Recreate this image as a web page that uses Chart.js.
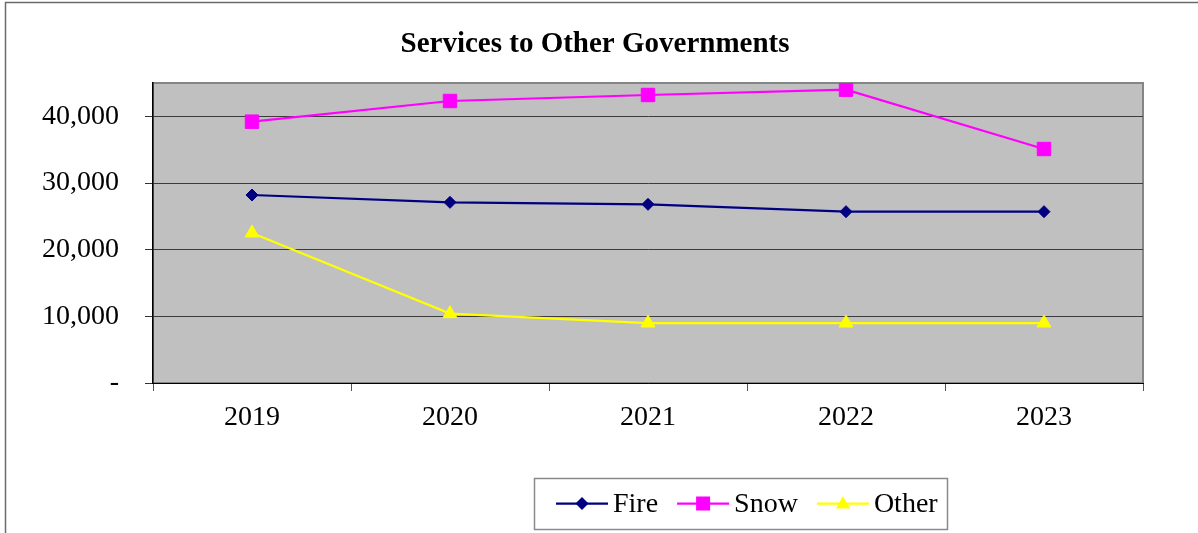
<!DOCTYPE html>
<html>
<head>
<meta charset="utf-8">
<title>Services to Other Governments</title>
<script src="https://cdn.jsdelivr.net/npm/chart.js@4.4.1/dist/chart.umd.min.js"></script>
<style>
  html, body { margin: 0; padding: 0; background: #fff; }
  #wrap { width: 1198px; height: 533px; }
</style>
</head>
<body>
<div id="wrap"><canvas id="chart" width="1198" height="533"></canvas></div>
<script>
// data
const years = ['2019', '2020', '2021', '2022', '2023'];
const seriesNames = ['Fire', 'Snow', 'Other'];
const fireValues = [28200, 27100, 26800, 25700, 25700];
const snowValues = [39200, 42300, 43200, 44000, 35100];
const otherValues = [22500, 10400, 9000, 9000, 9000];
const yTickValues = [0, 10000, 20000, 30000, 40000];

const FONT = '"Liberation Serif", "Times New Roman", serif';

// gray plot area + outer frame, drawn under the scales
const backdrop = {
    id: 'backdrop',
    beforeDraw(chart) {
        const { ctx, chartArea: a } = chart;
        ctx.save();
        ctx.fillStyle = '#fff';
        ctx.fillRect(0, 0, chart.width, chart.height);
        // outer frame (top and left edge visible)
        ctx.strokeStyle = '#6b6b6b';
        ctx.lineWidth = 1.5;
        ctx.beginPath();
        ctx.moveTo(5.5, chart.height);
        ctx.lineTo(5.5, 2.5);
        ctx.lineTo(chart.width, 2.5);
        ctx.stroke();
        // plot area
        ctx.fillStyle = '#c0c0c0';
        ctx.fillRect(a.left, a.top, a.right - a.left, a.bottom - a.top);
        ctx.strokeStyle = '#858585';
        ctx.lineWidth = 2;
        ctx.strokeRect(a.left, a.top, a.right - a.left, a.bottom - a.top);
        ctx.restore();
    }
};

function drawMarker(ctx, style, x, y, color) {
    ctx.fillStyle = color;
    ctx.beginPath();
    if (style === 'rectRot') {
        ctx.moveTo(x, y - 6.5); ctx.lineTo(x + 6.5, y); ctx.lineTo(x, y + 6.5); ctx.lineTo(x - 6.5, y);
    } else if (style === 'rect') {
        ctx.rect(x - 7, y - 7, 14, 14);
    } else {
        ctx.moveTo(x, y - 7.5); ctx.lineTo(x + 7, y + 5); ctx.lineTo(x - 7, y + 5);
    }
    ctx.closePath();
    ctx.fill();
}

// boxed legend below the plot, line + marker per series
const boxedLegend = {
    id: 'boxedLegend',
    afterDraw(chart) {
        const ctx = chart.ctx;
        const box = { x: 534, y: 478, w: 413, h: 51 };
        const cy = box.y + box.h / 2;
        ctx.save();
        ctx.strokeStyle = '#8a8a8a';
        ctx.lineWidth = 1.5;
        ctx.strokeRect(box.x + 0.5, box.y + 0.5, box.w, box.h);
        ctx.font = '28px ' + FONT;
        ctx.textBaseline = 'middle';
        ctx.textAlign = 'left';
        let x = box.x + 22;
        chart.data.datasets.forEach(ds => {
            ctx.strokeStyle = ds.borderColor;
            ctx.lineWidth = 2.25;
            ctx.beginPath();
            ctx.moveTo(x, cy);
            ctx.lineTo(x + 52, cy);
            ctx.stroke();
            drawMarker(ctx, ds.pointStyle, x + 26, cy, ds.pointBackgroundColor);
            ctx.fillStyle = '#000';
            ctx.fillText(ds.label, x + 57, cy + 1);
            x += 57 + ctx.measureText(ds.label).width + 19;
        });
        ctx.restore();
    }
};

const lineDataset = (label, data, color, style, radius) => ({
    label: label,
    data: data,
    borderColor: color,
    backgroundColor: color,
    pointBackgroundColor: color,
    pointBorderColor: color,
    borderWidth: 2.25,
    pointStyle: style,
    pointRadius: radius,
    pointBorderWidth: 1,
    tension: 0
});

new Chart(document.getElementById('chart'), {
    type: 'line',
    data: {
        labels: years,
        datasets: [
            lineDataset(seriesNames[0], fireValues, '#000080', 'rectRot', 6),
            lineDataset(seriesNames[1], snowValues, '#ff00ff', 'rect', 9.5),
            lineDataset(seriesNames[2], otherValues, '#ffff00', 'triangle', 8)
        ]
    },
    options: {
        responsive: false,
        devicePixelRatio: 1,
        animation: false,
        layout: { padding: { left: 0, right: 8, top: 27, bottom: 0 } },
        plugins: {
            legend: { display: false },
            tooltip: { enabled: false },
            title: {
                display: true,
                text: 'Services to Other Governments',
                color: '#000',
                font: { family: FONT, size: 29, weight: 'bold', lineHeight: 1.2 },
                padding: { top: 0, bottom: 21.2 }
            }
        },
        scales: {
            x: {
                offset: true,
                afterFit: s => { s.height = 150; },
                grid: {
                    offset: true,
                    drawOnChartArea: false,
                    drawTicks: true,
                    tickLength: 8,
                    color: '#555'
                },
                border: { display: true, color: '#000', width: 1 },
                ticks: {
                    color: '#000',
                    padding: 10,
                    maxRotation: 0,
                    font: { family: FONT, size: 28 }
                }
            },
            y: {
                min: 0,
                max: 45000,
                afterFit: s => { s.width = 153; },
                afterBuildTicks: s => {
                    s.ticks = yTickValues.map(v => ({ value: v }));
                },
                grid: {
                    color: '#3c3c3c',
                    lineWidth: 1,
                    drawTicks: true,
                    tickLength: 8,
                    tickColor: '#333'
                },
                border: { display: true, color: '#000', width: 1.5 },
                ticks: {
                    color: '#000',
                    padding: 26,
                    font: { family: FONT, size: 28 },
                    callback: v => v === 0 ? '-' : v.toLocaleString('en-US')
                }
            },
            // empty right-hand spacer so the plot ends where the reference's does
            yRight: {
                position: 'right',
                min: 0,
                max: 45000,
                afterFit: s => { s.width = 47; },
                grid: { display: false },
                border: { display: false },
                ticks: { display: false }
            }
        }
    },
    plugins: [backdrop, boxedLegend]
});
</script>
</body>
</html>
